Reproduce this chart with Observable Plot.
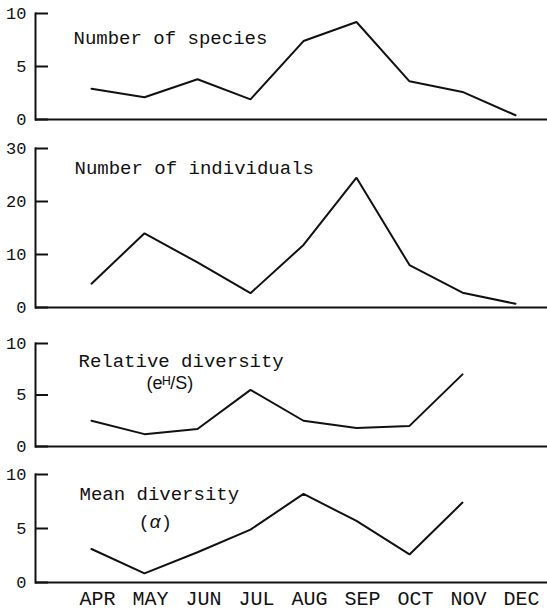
<!DOCTYPE html>
<html>
<head>
<meta charset="utf-8">
<script src="https://cdn.jsdelivr.net/npm/d3@7"></script>
<script src="https://cdn.jsdelivr.net/npm/@observablehq/plot@0.6"></script>
<style>
  html, body { margin: 0; padding: 0; background: #fff; }
  #chart { width: 547px; height: 611px; overflow: hidden; }
  #chart svg { display: block; }
</style>
</head>
<body>
<div id="chart"></div>
<script>
const months = ["APR", "MAY", "JUN", "JUL", "AUG", "SEP", "OCT", "NOV", "DEC"];

const species     = [2.9, 2.1, 3.8, 1.9, 7.4, 9.2, 3.6, 2.6, 0.4];
const individuals = [4.5, 14, 8.5, 2.7, 11.8, 24.5, 8.0, 2.8, 0.7];
const relDiversity  = [2.5, 1.2, 1.7, 5.5, 2.5, 1.8, 2.0, 7.0];
const meanDiversity = [3.1, 0.85, 2.8, 4.9, 8.2, 5.7, 2.6, 7.4];

const ticksSpecies = [0, 5, 10];
const ticksIndividuals = [0, 10, 20, 30];
const ticksRel = [0, 5, 10];
const ticksMean = [0, 5, 10];

const ink = "#111";
const mono = "'Liberation Mono', 'DejaVu Sans Mono', monospace";
const sans = "'Liberation Sans', 'DejaVu Sans', sans-serif";

function panel({values, yMax, ticks, height, marginTop, marginBottom, labels, xAxis}) {
  const data = values.map((v, i) => ({month: months[i], value: v}));
  const marks = [
    Plot.ruleY([0], {stroke: ink, strokeWidth: 2}),
    Plot.frame({anchor: "left", stroke: ink, strokeWidth: 2}),
    Plot.axisY(ticks, {label: null, tickSize: 13, dx: 13, tickPadding: 9, strokeWidth: 2, stroke: ink, fill: ink,
      fontSize: 17, fontFamily: mono}),
    Plot.lineY(data, {x: "month", y: "value", stroke: ink, strokeWidth: 2, strokeLinejoin: "miter"}),
    ...labels.map(l => Plot.text([l.text], {frameAnchor: "top-left", dx: l.dx, dy: l.dy,
      textAnchor: "start", lineAnchor: "middle", fontSize: l.size, fontFamily: l.font, fill: ink}))
  ];
  if (xAxis) {
    marks.push(Plot.axisX(months, {label: null, tickSize: 0, tickPadding: 8, dx: 6, fontSize: 20,
      fontFamily: mono, fill: ink}));
  }
  return Plot.plot({
    width: 547, height, marginLeft: 35, marginRight: 0, marginTop, marginBottom,
    style: {background: "#fff", overflow: "visible"},
    x: {type: "point", domain: months, range: [89, 517], padding: 0, axis: null},
    y: {domain: [0, yMax], axis: null},
    marks
  });
}

const chart = document.getElementById("chart");

chart.append(panel({values: species, yMax: 10, ticks: ticksSpecies, height: 130, marginTop: 13, marginBottom: 11,
  labels: [{text: "Number of species", dx: 38, dy: 24, size: 19, font: mono}]}));

chart.append(panel({values: individuals, yMax: 30, ticks: ticksIndividuals, height: 185, marginTop: 18, marginBottom: 8,
  labels: [{text: "Number of individuals", dx: 39, dy: 19, size: 19, font: mono}]}));

chart.append(panel({values: relDiversity, yMax: 10, ticks: ticksRel, height: 140, marginTop: 28, marginBottom: 9,
  labels: [{text: "Relative diversity", dx: 43, dy: 17, size: 19, font: mono},
           {text: "(eᴴ/S)", dx: 111, dy: 40, size: 18, font: sans}]}));

const p4 = panel({values: meanDiversity, yMax: 10, ticks: ticksMean, height: 156, marginTop: 19, marginBottom: 29,
  labels: [{text: "Mean diversity", dx: 44, dy: 19, size: 19, font: mono},
           {text: "(α)", dx: 105, dy: 47, size: 19, font: sans}],
  xAxis: true});
chart.append(p4);

// italicise the alpha
p4.querySelectorAll("text").forEach(t => {
  if (t.textContent === "(α)") {
    t.textContent = "";
    const ns = "http://www.w3.org/2000/svg";
    ["(", "α", ")"].forEach(s => {
      const ts = document.createElementNS(ns, "tspan");
      ts.textContent = s;
      if (s === "α") { ts.setAttribute("font-style", "italic"); ts.setAttribute("dx", "3"); }
      if (s === ")") ts.setAttribute("dx", "3");
      t.appendChild(ts);
    });
  }
});
</script>
</body>
</html>
